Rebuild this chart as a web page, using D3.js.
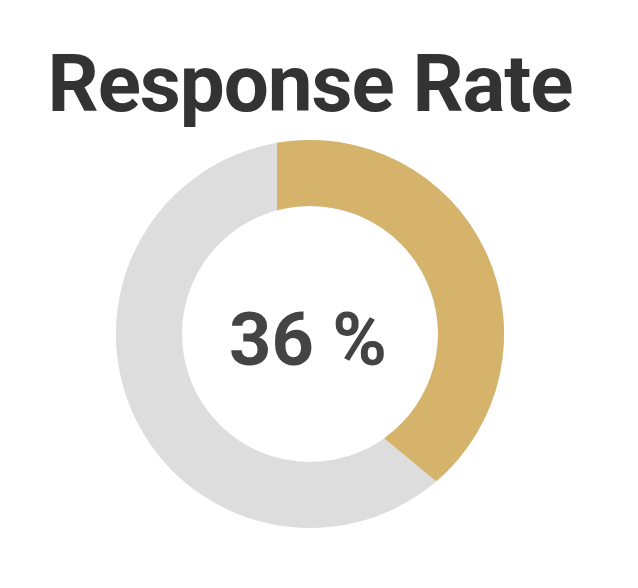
<!DOCTYPE html>
<html>
<head>
<meta charset="utf-8">
<script src="https://cdn.jsdelivr.net/npm/d3@7"></script>
<style>
  html, body { margin: 0; padding: 0; background: #fff; }
  svg { display: block; }
</style>
</head>
<body>
<svg id="chart" width="638" height="588"></svg>
<script>
// ---- data ----
const title = "Response Rate";
const categories = ["Responded", "Not responded"];
const values = [36, 64];
const valueLabel = "36 %";

// ---- layout ----
const W = 638, H = 588;
const cx = 310, cy = 334;
const rOuter = 194, rInner = 128;
const edgeExt = 33; // edges extended parallel to radial lines

const svg = d3.select("#chart");

svg.append("text")
  .attr("x", 310).attr("y", 110.5)
  .attr("text-anchor", "middle")
  .attr("font-family", "Roboto, sans-serif")
  .attr("font-weight", 700)
  .attr("font-size", 80)
  .attr("letter-spacing", -1.1)
  .attr("fill", "#333333")
  .text(title);

const total = d3.sum(values);
const angle = d3.scaleLinear().domain([0, total]).range([0, 2 * Math.PI]);

const g = svg.append("g").attr("transform", `translate(${cx},${cy})`);

// background ring
const bgArc = d3.arc().innerRadius(rInner).outerRadius(rOuter).startAngle(0).endAngle(angle(total));
g.append("path").attr("d", bgArc()).attr("fill", "#dddddd");

// foreground segment with edges parallel to radial lines, extended outward
function segPath(a0, a1) {
  const p = d3.path();
  const o0 = a0 - Math.asin(edgeExt / rOuter), o1 = a1 + Math.asin(edgeExt / rOuter);
  const i0 = a0 - Math.asin(edgeExt / rInner), i1 = a1 + Math.asin(edgeExt / rInner);
  const s = a => a - Math.PI / 2;
  p.moveTo(rOuter * Math.cos(s(o0)), rOuter * Math.sin(s(o0)));
  p.arc(0, 0, rOuter, s(o0), s(o1), false);
  p.lineTo(rInner * Math.cos(s(i1)), rInner * Math.sin(s(i1)));
  p.arc(0, 0, rInner, s(i1), s(i0), true);
  p.closePath();
  return p.toString();
}
g.append("path").attr("d", segPath(angle(0), angle(values[0]))).attr("fill", "#d5b36a");

g.append("text")
  .attr("x", -2).attr("y", 31)
  .attr("text-anchor", "middle")
  .attr("font-family", "Roboto, sans-serif")
  .attr("font-weight", 700)
  .attr("font-size", 74)
  .attr("fill", "#444444")
  .text(valueLabel);
</script>
</body>
</html>
